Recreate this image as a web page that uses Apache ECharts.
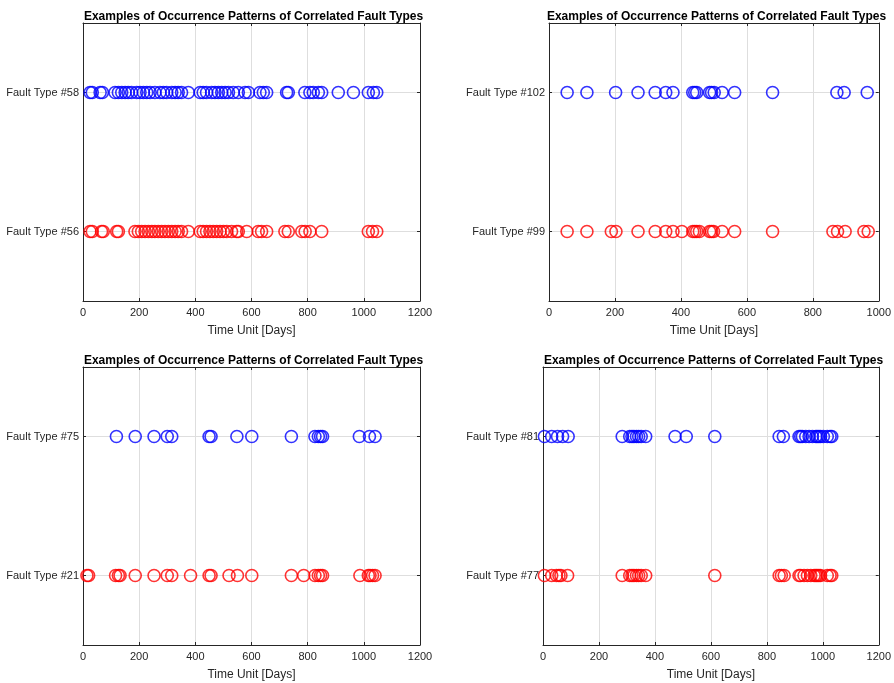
<!DOCTYPE html>
<html><head><meta charset="utf-8">
<script src="https://cdn.jsdelivr.net/npm/echarts@6/dist/echarts.min.js"></script>
<style>html,body{margin:0;padding:0;background:#fff}#c{width:894px;height:683px}</style>
</head><body><div id="c"></div>
<script>
const titleText = 'Examples of Occurrence Patterns of Correlated Fault Types';
const xAxisName = 'Time Unit [Days]';

// Panel 1 (top-left)
const p1Labels = ['Fault Type #56', 'Fault Type #58'];
const p1Upper = [25, 33, 61, 69, 114, 126, 138, 150, 161, 173, 191, 203, 215, 227, 239, 256, 274, 286, 298, 316, 328, 339, 351, 375,
  417, 428, 440, 458, 470, 482, 494, 506, 518, 535, 553, 577, 589, 630, 642, 654, 725, 731, 790, 808, 820, 838, 850, 909, 963, 1016, 1034, 1046];
const p1Lower = [25, 33, 66, 72, 120, 126, 185, 197, 209, 221, 233, 245, 256, 268, 280, 292, 304, 316, 328, 339, 351, 375,
  417, 428, 440, 452, 464, 476, 488, 500, 512, 529, 547, 553, 583, 624, 636, 654, 719, 731, 779, 791, 808, 850, 1016, 1031, 1046];

// Panel 2 (top-right)
const p2Labels = ['Fault Type #99', 'Fault Type #102'];
const p2Upper = [55, 115, 202, 270, 322, 354, 376, 436, 442, 448, 487, 493, 501, 525, 563, 678, 873, 895, 965];
const p2Lower = [55, 115, 189, 203, 270, 322, 354, 376, 403, 436, 442, 448, 456, 487, 493, 499, 525, 563, 678, 861, 875, 898, 955, 968];

// Panel 3 (bottom-left)
const p3Labels = ['Fault Type #21', 'Fault Type #75'];
const p3Upper = [119, 186, 253, 300, 316, 449, 456, 548, 601, 742, 826, 838, 846, 853, 984, 1020, 1040];
const p3Lower = [14, 20, 116, 126, 132, 186, 253, 300, 316, 383, 449, 456, 520, 550, 601, 742, 786, 826, 838, 846, 853, 986, 1016, 1022, 1031, 1040];

// Panel 4 (bottom-right)
const p4Labels = ['Fault Type #77', 'Fault Type #81'];
const p4Upper = [5, 31, 52, 70, 90, 283, 310, 318, 325, 334, 342, 351, 367, 472, 512, 614,
  844, 859, 915, 921, 927, 939, 951, 963, 975, 980, 986, 992, 1002, 1016, 1026, 1032];
const p4Lower = [5, 31, 48, 57, 64, 88, 283, 310, 318, 325, 334, 342, 351, 367, 614,
  844, 852, 862, 915, 921, 933, 945, 957, 969, 975, 980, 986, 992, 1016, 1026, 1032];

const xMaxes = [1200, 1000, 1200, 1200];
const xInterval = 200;

const panels = [
  { labels: p1Labels, upper: p1Upper, lower: p1Lower },
  { labels: p2Labels, upper: p2Upper, lower: p2Lower },
  { labels: p3Labels, upper: p3Upper, lower: p3Lower },
  { labels: p4Labels, upper: p4Upper, lower: p4Lower }
];

const gridBoxes = [
  { left: 83, top: 23, width: 337, height: 278 },
  { left: 549, top: 23, width: 331, height: 278 },
  { left: 83, top: 367, width: 337, height: 278 },
  { left: 543, top: 367, width: 337, height: 278 }
];

const FONT = '"Liberation Sans", Arial, Helvetica, sans-serif';
const AX = '#262626';
const GRIDC = '#dedede';

const option = {
  animation: false,
  backgroundColor: '#fff',
  title: [], grid: [], xAxis: [], yAxis: [], series: []
};

panels.forEach((p, i) => {
  const g = gridBoxes[i];
  option.grid.push({ left: g.left, top: g.top, width: g.width, height: g.height, containLabel: false });
  option.title.push({
    text: titleText, left: g.left + g.width / 2 - 3, top: g.top - 17, textAlign: 'center',
    textStyle: { fontFamily: FONT, fontSize: 12, fontWeight: 'bold', color: '#000' }
  });
  option.xAxis.push({
    type: 'value', gridIndex: i, min: 0, max: xMaxes[i], interval: xInterval, position: 'bottom',
    name: xAxisName, nameLocation: 'middle', nameGap: 24,
    nameTextStyle: { fontFamily: FONT, fontSize: 12, color: AX },
    axisLine: { show: true, onZero: false, lineStyle: { color: AX, width: 1 } },
    axisTick: { show: true, inside: true, length: 3, lineStyle: { color: AX } },
    axisLabel: { fontFamily: FONT, fontSize: 11, color: AX, margin: 6, formatter: v => String(v) },
    splitLine: { show: true, lineStyle: { color: GRIDC, width: 1 } }
  });
  option.xAxis.push({
    type: 'value', gridIndex: i, min: 0, max: xMaxes[i], interval: xInterval, position: 'top',
    axisLine: { show: true, onZero: false, lineStyle: { color: AX, width: 1 } },
    axisTick: { show: true, inside: true, length: 3, lineStyle: { color: AX } },
    axisLabel: { show: false }, splitLine: { show: false }
  });
  option.yAxis.push({
    type: 'value', gridIndex: i, min: 0.5, max: 2.5, position: 'left',
    axisLine: { show: true, onZero: false, lineStyle: { color: AX, width: 1 } },
    axisTick: { show: true, inside: true, length: 3, customValues: [1, 2], lineStyle: { color: AX } },
    axisLabel: { show: true, customValues: [1, 2], fontFamily: FONT, fontSize: 11, color: AX, margin: 4,
      formatter: v => p.labels[Math.round(v) - 1] },
    splitLine: { show: true, lineStyle: { color: GRIDC, width: 1 } }
  });
  option.yAxis.push({
    type: 'value', gridIndex: i, min: 0.5, max: 2.5, position: 'right',
    axisLine: { show: true, onZero: false, lineStyle: { color: AX, width: 1 } },
    axisTick: { show: true, inside: true, length: 3, customValues: [1, 2], lineStyle: { color: AX } },
    axisLabel: { show: false }, splitLine: { show: false }
  });
  const xi = i * 2, yi = i * 2;
  option.series.push({
    type: 'scatter', xAxisIndex: xi, yAxisIndex: yi, symbol: 'circle', symbolSize: 12,
    itemStyle: { color: 'rgba(0,0,0,0)', borderColor: '#ff0000', borderWidth: 1.6 },
    data: p.lower.map(v => [v, 1]), z: 3
  });
  option.series.push({
    type: 'scatter', xAxisIndex: xi, yAxisIndex: yi, symbol: 'circle', symbolSize: 12,
    itemStyle: { color: 'rgba(0,0,0,0)', borderColor: '#0000ff', borderWidth: 1.6 },
    data: p.upper.map(v => [v, 2]), z: 3
  });
});

const chart = echarts.init(document.getElementById('c'), null, { renderer: 'canvas' });
chart.setOption(option);
</script></body></html>
